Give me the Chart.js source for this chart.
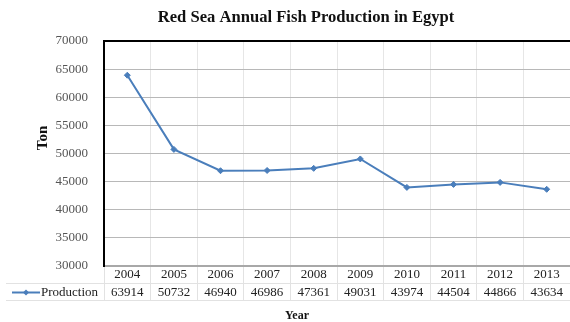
<!DOCTYPE html>
<html><head><meta charset="utf-8">
<script src="https://cdn.jsdelivr.net/npm/chart.js@4"></script>
<style>html,body{margin:0;padding:0;background:#fff}#wrap{width:570px;height:322px}</style>
</head><body><div id="wrap"><canvas id="c" width="570" height="322"></canvas></div>
<script>
const chartTitle = 'Red Sea Annual Fish Production in Egypt';
const years = ['2004','2005','2006','2007','2008','2009','2010','2011','2012','2013'];
const production = [63914, 50732, 46940, 46986, 47361, 49031, 43974, 44504, 44866, 43634];
const seriesName = 'Production';
const yTitle = 'Ton';
const xTitle = 'Year';
const yMin = 30000, yMax = 70000, yStep = 5000;

const lineColor = '#4a7ebb';
const serif = '"Liberation Serif","Times New Roman",serif';

const extras = {
  id: 'extras',
  afterDraw(chart) {
    const ctx = chart.ctx;
    const a = chart.chartArea;
    const xs = chart.scales.x;
    ctx.save();
    // top border
    ctx.strokeStyle = '#000'; ctx.lineWidth = 2;
    ctx.beginPath(); ctx.moveTo(a.left - 1, a.top); ctx.lineTo(a.right, a.top); ctx.stroke();
    // table lines
    const r1 = a.bottom + 17, r2 = a.bottom + 34;
    ctx.strokeStyle = '#e2e2e2'; ctx.lineWidth = 1;
    ctx.beginPath();
    ctx.moveTo(6, r1 + 0.5); ctx.lineTo(a.right, r1 + 0.5);
    ctx.moveTo(6, r2 + 0.5); ctx.lineTo(a.right, r2 + 0.5);
    ctx.stroke();
    // values row
    ctx.fillStyle = '#222';
    ctx.font = '13px ' + serif;
    ctx.textAlign = 'center'; ctx.textBaseline = 'middle';
    const ds = chart.data.datasets[0];
    ds.data.forEach((v, i) => {
      ctx.fillText(String(v), xs.getPixelForValue(i), (r1 + r2) / 2 + 1);
    });
    // legend key
    const ly = (r1 + r2) / 2 + 1;
    ctx.strokeStyle = lineColor; ctx.lineWidth = 2;
    ctx.beginPath(); ctx.moveTo(12, ly); ctx.lineTo(40, ly); ctx.stroke();
    ctx.fillStyle = lineColor;
    ctx.beginPath(); ctx.moveTo(26, ly - 3); ctx.lineTo(29, ly); ctx.lineTo(26, ly + 3); ctx.lineTo(23, ly); ctx.closePath(); ctx.fill();
    ctx.fillStyle = '#222'; ctx.textAlign = 'left';
    ctx.fillText(ds.label, 41, ly);
    // titles
    ctx.fillStyle = '#111';
    ctx.font = 'bold 16.6px ' + serif;
    ctx.textAlign = 'center';
    ctx.fillText(chartTitle, 306, 18);
    ctx.font = 'bold 12px ' + serif;
    ctx.fillText(xTitle, 297, 316);
    ctx.translate(43, 138); ctx.rotate(-Math.PI / 2);
    ctx.font = 'bold 15px ' + serif;
    ctx.fillText(yTitle, 0, 0);
    ctx.restore();
  }
};

new Chart(document.getElementById('c'), {
  type: 'line',
  data: {
    labels: years,
    datasets: [{
      label: seriesName,
      data: production,
      borderColor: lineColor,
      backgroundColor: lineColor,
      borderWidth: 2,
      pointStyle: 'rectRot',
      pointRadius: 3,
      pointBorderWidth: 1,
      tension: 0
    }]
  },
  options: {
    responsive: false,
    animation: false,
    devicePixelRatio: 1,
    layout: { autoPadding: false, padding: { top: 41, left: 0, right: 0, bottom: 0 } },
    plugins: { legend: { display: false }, tooltip: { enabled: false }, title: { display: false } },
    scales: {
      x: {
        offset: true,
        grid: { offset: true, color: '#e6e6e6', tickLength: 34, drawOnChartArea: true, tickColor: '#e2e2e2' },
        border: { color: '#a8a8a8', width: 2 },
        ticks: { color: '#222', font: { family: serif, size: 13 }, padding: -33, maxRotation: 0, autoSkip: false },
        afterFit(s) { s.height = 56; s.paddingLeft = 0; s.paddingRight = 0; }
      },
      y: {
        min: yMin, max: yMax,
        grid: { color: '#b8b8b8', drawTicks: false },
        border: { color: '#000', width: 2 },
        ticks: { stepSize: yStep, color: '#555', font: { family: serif, size: 13 }, padding: 16, callback: v => String(v) },
        afterFit(s) { s.width = 104; s.paddingTop = 0; s.paddingBottom = 0; }
      }
    }
  },
  plugins: [extras]
});
</script>
</body></html>
